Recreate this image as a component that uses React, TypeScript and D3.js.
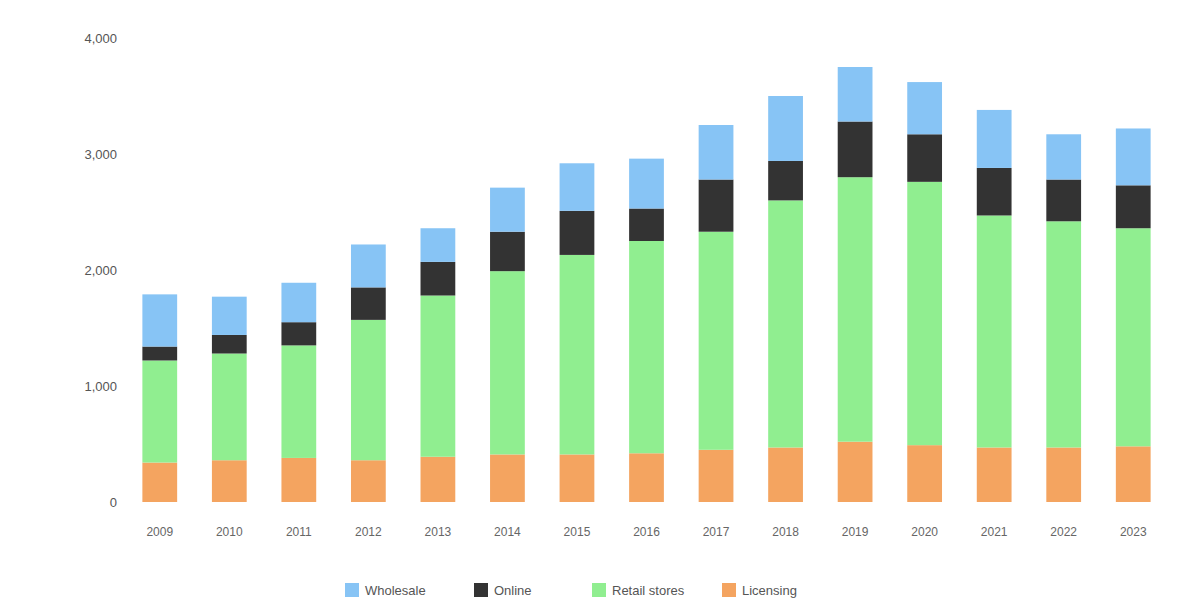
import React from "react";
import * as d3 from "d3";

// Categories (years) and stacked series values
const years = ["2009", "2010", "2011", "2012", "2013", "2014", "2015", "2016", "2017", "2018", "2019", "2020", "2021", "2022", "2023"];
const licensing = [340, 360, 380, 360, 390, 410, 410, 420, 450, 470, 520, 490, 470, 470, 480];
const retailStores = [880, 920, 970, 1210, 1390, 1580, 1720, 1830, 1880, 2130, 2280, 2270, 2000, 1950, 1880];
const online = [120, 160, 200, 280, 290, 340, 380, 280, 450, 340, 480, 410, 410, 360, 370];
const wholesale = [450, 330, 340, 370, 290, 380, 410, 430, 470, 560, 470, 450, 500, 390, 490];
const yTicks = [0, 1000, 2000, 3000, 4000];

// Stack order, bottom to top
const seriesKeys = ["Licensing", "Retail stores", "Online", "Wholesale"];
const seriesValues: Record<string, number[]> = {
  Licensing: licensing,
  "Retail stores": retailStores,
  Online: online,
  Wholesale: wholesale,
};
const colors: Record<string, string> = {
  Licensing: "#f4a460",
  "Retail stores": "#90ee90",
  Online: "#333333",
  Wholesale: "#87c4f5",
};
// Legend reads top of stack first
const legendOrder = ["Wholesale", "Online", "Retail stores", "Licensing"];

const W = 1179;
const H = 607;
const FONT = "'Liberation Sans', Arial, sans-serif";

export default function App() {
  const rows = years.map((year, i) => {
    const row: Record<string, number | string> = { year };
    seriesKeys.forEach((k) => (row[k] = seriesValues[k][i]));
    return row;
  });

  const stack = d3.stack<Record<string, number | string>>().keys(seriesKeys)(rows as any);

  const x = d3.scaleBand<string>().domain(years).range([125, 1168]).paddingInner(0.5).paddingOuter(0.25);
  const y = d3.scaleLinear().domain([0, 4000]).range([502, 38]);
  const fmt = d3.format(",");

  const legendX = [345, 474, 592, 722];

  return (
    <svg
      width={W}
      height={H}
      style={{ position: "absolute", left: 0, top: 0, display: "block", background: "#fff" }}
      fontFamily={FONT}
    >
      {/* y-axis tick labels */}
      {yTicks.map((t) => (
        <text key={t} x={117} y={y(t)} dy="0.35em" textAnchor="end" fontSize={13} fill="#555">
          {fmt(t)}
        </text>
      ))}

      {/* stacked bars */}
      {stack.map((layer) => (
        <g key={layer.key} fill={colors[layer.key]}>
          {layer.map((d, i) => (
            <rect
              key={years[i]}
              x={x(years[i])}
              y={y(d[1])}
              width={x.bandwidth()}
              height={y(d[0]) - y(d[1])}
            />
          ))}
        </g>
      ))}

      {/* x-axis labels */}
      {years.map((yr) => (
        <text
          key={yr}
          x={(x(yr) as number) + x.bandwidth() / 2}
          y={532}
          dy="0.35em"
          textAnchor="middle"
          fontSize={12}
          fill="#666"
        >
          {yr}
        </text>
      ))}

      {/* legend */}
      {legendOrder.map((k, i) => (
        <g key={k} transform={`translate(${legendX[i]},590)`}>
          <rect x={0} y={-7} width={14} height={14} fill={colors[k]} />
          <text x={20} y={0} dy="0.35em" fontSize={13} fill="#555">
            {k}
          </text>
        </g>
      ))}
    </svg>
  );
}
